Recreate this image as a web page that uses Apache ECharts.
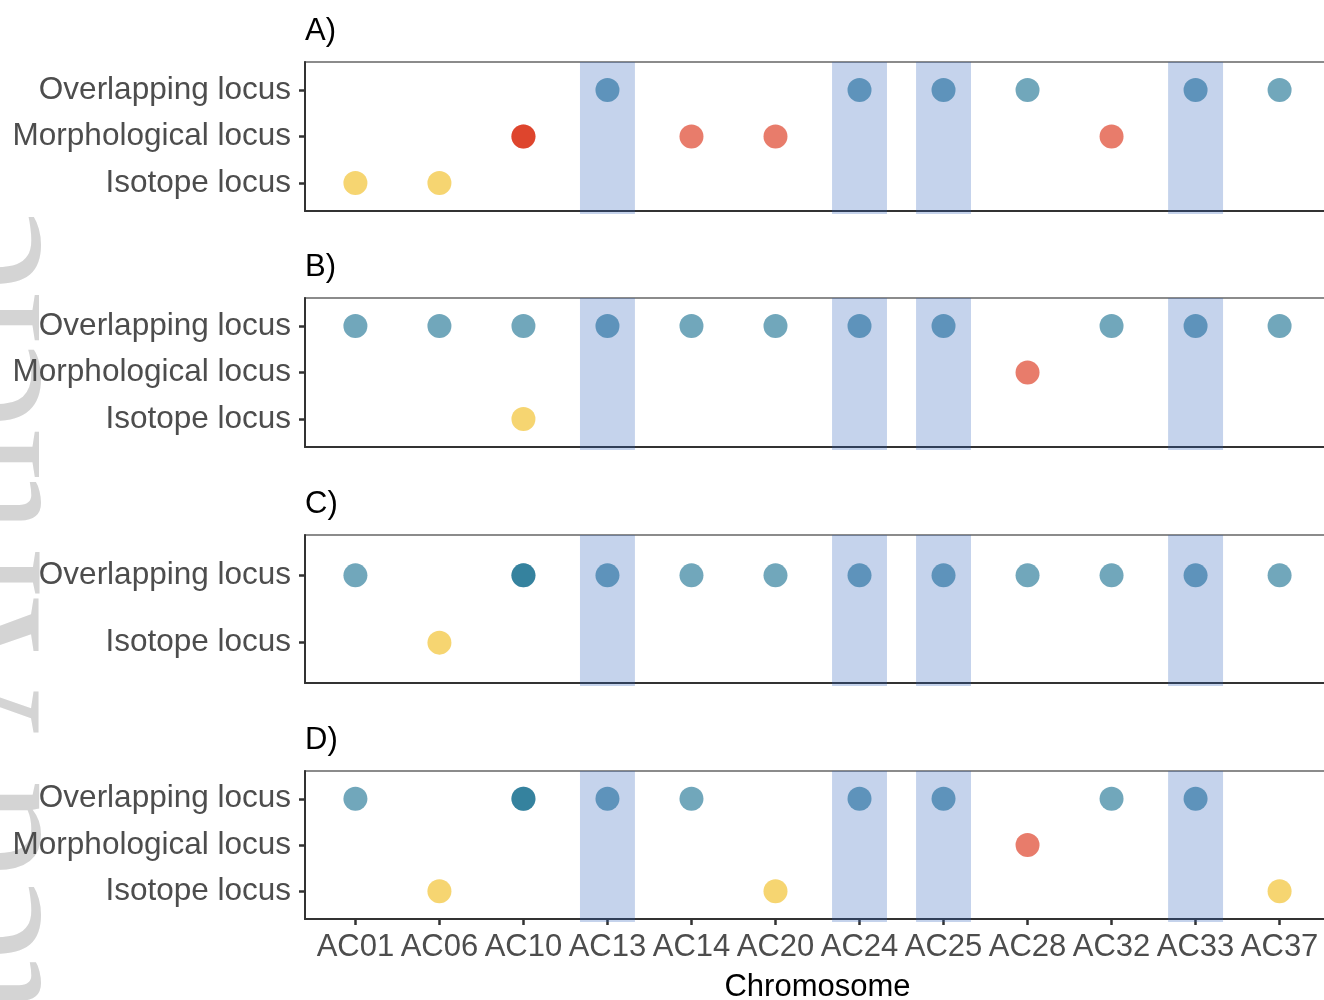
<!DOCTYPE html>
<html>
<head>
<meta charset="utf-8">
<style>
  html, body { margin: 0; padding: 0; background: #ffffff; }
  #chart { width: 1324px; height: 1000px; }
</style>
<script src="https://cdn.jsdelivr.net/npm/echarts@6/dist/echarts.min.js"></script>
</head>
<body>
<div id="chart"></div>
<script>
// ---------------- data ----------------
const chromosomes = ['AC01','AC06','AC10','AC13','AC14','AC20','AC24','AC25','AC28','AC32','AC33','AC37'];
const shadedChromosomes = ['AC13','AC24','AC25','AC33'];
const panelTitles = ['A)','B)','C)','D)'];
const rowsThree = ['Isotope locus','Morphological locus','Overlapping locus'];
const rowsTwo = ['Isotope locus','Overlapping locus'];

// Panel A
const aIsotope = ['AC01','AC06'];
const aMorphological = ['AC10','AC10','AC14','AC20','AC32'];
const aOverlapping = ['AC13','AC24','AC25','AC28','AC33','AC37'];
// Panel B
const bIsotope = ['AC10'];
const bMorphological = ['AC28'];
const bOverlapping = ['AC01','AC06','AC10','AC13','AC14','AC20','AC24','AC25','AC32','AC33','AC37'];
// Panel C
const cIsotope = ['AC06'];
const cOverlapping = ['AC01','AC10','AC10','AC13','AC14','AC20','AC24','AC25','AC28','AC32','AC33','AC37'];
// Panel D
const dIsotope = ['AC06','AC20','AC37'];
const dMorphological = ['AC28'];
const dOverlapping = ['AC01','AC10','AC10','AC13','AC14','AC24','AC25','AC32','AC33'];

// ---------------- styling ----------------
const FONT = '"Liberation Sans", Arial, sans-serif';
const colIsotope = 'rgb(240,182,10)';
const colMorph = 'rgb(215,30,0)';
const colOverlap = 'rgb(10,104,137)';
const pointOpacity = 0.58;
const bandColor = 'rgba(48,98,187,0.28)';

const panels = [
  { title: panelTitles[0], rows: rowsThree, top: 62, height: 149,
    sets: [[aIsotope,'Isotope locus',colIsotope],[aMorphological,'Morphological locus',colMorph],[aOverlapping,'Overlapping locus',colOverlap]] },
  { title: panelTitles[1], rows: rowsThree, top: 298, height: 149,
    sets: [[bIsotope,'Isotope locus',colIsotope],[bMorphological,'Morphological locus',colMorph],[bOverlapping,'Overlapping locus',colOverlap]] },
  { title: panelTitles[2], rows: rowsTwo, top: 535, height: 148,
    sets: [[cIsotope,'Isotope locus',colIsotope],[cOverlapping,'Overlapping locus',colOverlap]] },
  { title: panelTitles[3], rows: rowsThree, top: 771, height: 148,
    sets: [[dIsotope,'Isotope locus',colIsotope],[dMorphological,'Morphological locus',colMorph],[dOverlapping,'Overlapping locus',colOverlap]] }
];

const GRID_LEFT = 305;
const GRID_WIDTH = 1025;
const xTickValues = chromosomes.map((c, i) => i + 1);

const grids = [], xAxes = [], yAxes = [], series = [], graphics = [];

panels.forEach((p, pi) => {
  const isLast = pi === panels.length - 1;
  grids.push({ left: GRID_LEFT, width: GRID_WIDTH, top: p.top, height: p.height,
    outerBoundsMode: 'none', containLabel: false,
    show: true, borderColor: '#666666', borderWidth: 1.5, backgroundColor: 'transparent' });
  xAxes.push({
    type: 'value', gridIndex: pi, min: 0.4, max: chromosomes.length + 0.6,
    splitLine: { show: false },
    axisLine: { show: true, onZero: false, lineStyle: { color: '#333333', width: 2 } },
    axisTick: { show: isLast, length: 6, lineStyle: { color: '#333333', width: 2.5 }, customValues: xTickValues },
    axisLabel: { show: isLast, customValues: xTickValues, margin: 13, color: '#4d4d4d', fontSize: 31, fontFamily: FONT,
      formatter: v => chromosomes[Math.round(v) - 1] || '' },
    name: isLast ? 'Chromosome' : '', nameLocation: 'middle', nameGap: 53,
    nameTextStyle: { color: '#000000', fontSize: 31, fontFamily: FONT }
  });
  const yTicks = p.rows.map((r, i) => i + 1);
  yAxes.push({
    type: 'value', gridIndex: pi, min: 0.4, max: p.rows.length + 0.6,
    splitLine: { show: false },
    axisLine: { show: true, onZero: false, lineStyle: { color: '#333333', width: 2 } },
    axisTick: { show: true, length: 6, lineStyle: { color: '#333333', width: 2.5 }, customValues: yTicks },
    axisLabel: { customValues: yTicks, margin: 14, color: '#4d4d4d', fontSize: 31.5, fontFamily: FONT,
      padding: [4, 0, 0, 0],
      formatter: v => p.rows[Math.round(v) - 1] || '' }
  });
  p.sets.forEach(([list, rowName, color]) => {
    const yv = p.rows.indexOf(rowName) + 1;
    series.push({
      type: 'scatter', xAxisIndex: pi, yAxisIndex: pi, symbol: 'circle', symbolSize: 24,
      itemStyle: { color: color, opacity: pointOpacity },
      data: list.map(c => [chromosomes.indexOf(c) + 1, yv]),
      z: 2, silent: true
    });
  });
  series.push({
    type: 'custom', xAxisIndex: pi, yAxisIndex: pi, z: 5, silent: true,
    data: shadedChromosomes.map(c => [chromosomes.indexOf(c) + 1, 1]),
    renderItem: (params, api) => {
      const cs = params.coordSys;
      const xc = api.value(0);
      const x0 = api.coord([xc - 0.327, 1])[0];
      const x1 = api.coord([xc + 0.327, 1])[0];
      return { type: 'rect', shape: { x: x0, y: cs.y, width: x1 - x0, height: cs.height + 3 },
        style: { fill: bandColor } };
    }
  });
  graphics.push({ type: 'text', left: GRID_LEFT, top: p.top - 46, z: 10,
    style: { text: p.title, fill: '#000000', font: '31px ' + FONT } });
});

// faint journal watermark on the left edge
graphics.push({ type: 'text', x: 84, y: 853, rotation: Math.PI / 2, z: -1, silent: true,
  style: { text: 'Accepted Article', fill: '#d4d4d4', font: '190px "Liberation Serif", "DejaVu Serif", serif',
    textAlign: 'center', textVerticalAlign: 'bottom' } });

const chart = echarts.init(document.getElementById('chart'), null, { renderer: 'canvas' });
chart.setOption({
  animation: false,
  backgroundColor: '#ffffff',
  grid: grids, xAxis: xAxes, yAxis: yAxes, series: series, graphic: graphics
});
</script>
</body>
</html>
